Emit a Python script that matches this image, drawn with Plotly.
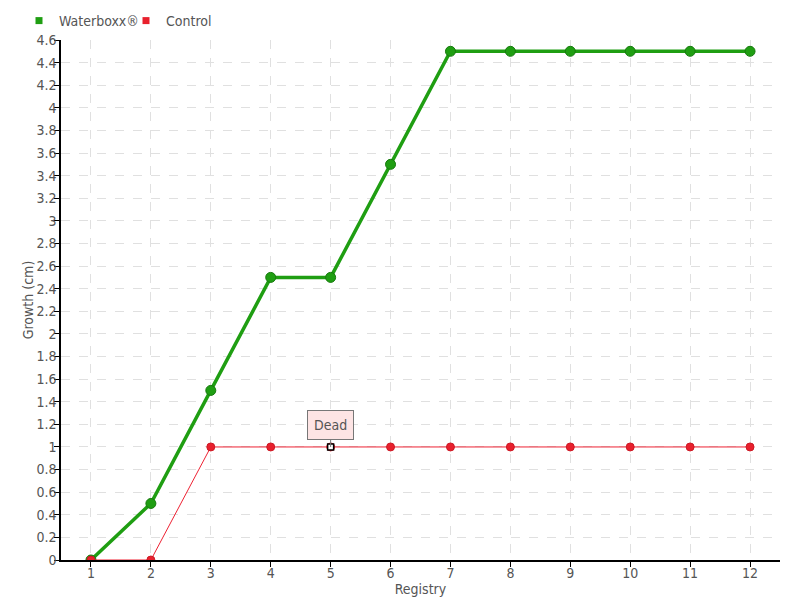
import plotly.graph_objects as go

registry = [1, 2, 3, 4, 5, 6, 7, 8, 9, 10, 11, 12]
waterboxx = [0, 0.5, 1.5, 2.5, 2.5, 3.5, 4.5, 4.5, 4.5, 4.5, 4.5, 4.5]
control = [0, 0, 1, 1, 1, 1, 1, 1, 1, 1, 1, 1]
y_ticks = [0, 0.2, 0.4, 0.6, 0.8, 1, 1.2, 1.4, 1.6, 1.8, 2, 2.2, 2.4, 2.6, 2.8, 3,
           3.2, 3.4, 3.6, 3.8, 4, 4.2, 4.4, 4.6]
dead_x, dead_y, dead_label = 5, 1, "Dead"

font_family = "DejaVu Sans Condensed, Liberation Sans Narrow, sans-serif"
text_color = "#555555"
green = "#1f9e12"
red = "#e8202d"

W, H = 792, 592  # page body has an 8px margin

fig = go.Figure()
fig.add_trace(go.Scatter(
    x=registry, y=waterboxx, name="Waterboxx®", mode="lines+markers", showlegend=False,
    line=dict(color=green, width=3.5),
    marker=dict(symbol="circle", size=10, color=green,
                line=dict(color="#177a0e", width=1)),
))
fig.add_trace(go.Scatter(
    x=registry, y=control, name="Control", mode="lines+markers", showlegend=False,
    line=dict(color="#ee2233", width=1),
    marker=dict(symbol="circle", size=8, color=red,
                line=dict(color="#cc1a25", width=1)),
))
fig.add_trace(go.Scatter(x=[None], y=[None], name="Waterboxx®", mode="markers",
                         legend="legend",
                         marker=dict(symbol="square", size=7, color=green)))
fig.add_trace(go.Scatter(x=[None], y=[None], name="Control", mode="markers",
                         legend="legend2",
                         marker=dict(symbol="square", size=7, color=red)))
fig.add_trace(go.Scatter(
    x=[dead_x], y=[dead_y], mode="markers", showlegend=False,
    marker=dict(symbol="square", size=6, color="white",
                line=dict(color="black", width=1.5)),
))
fig.add_annotation(
    x=dead_x, y=dead_y, text=dead_label, showarrow=True, arrowhead=0,
    arrowwidth=1, arrowcolor="#777777", ax=0, ay=-22,
    bgcolor="#fde4e4", bordercolor="#777777", borderwidth=1, borderpad=6,
    font=dict(family=font_family, size=14, color=text_color),
)

legend_common = dict(orientation="h", xref="container", xanchor="left",
                     y=1 - 13 / H, yref="container", yanchor="middle",
                     font=dict(size=14, color=text_color), itemwidth=30,
                     tracegroupgap=0, bgcolor="rgba(0,0,0,0)")

fig.update_layout(
    width=W, height=H,
    margin=dict(l=53, r=20, t=32, b=40, autoexpand=False),
    plot_bgcolor="white", paper_bgcolor="white",
    font=dict(family=font_family, size=14, color=text_color),
    legend=dict(x=11 / W, **legend_common),
    legend2=dict(x=118 / W, **legend_common),
    showlegend=True,
)
fig.update_xaxes(
    range=[0.5, 12.5], tickmode="array", tickvals=registry,
    showline=True, linecolor="black", linewidth=1.5,
    ticks="outside", ticklen=5, tickcolor="black", ticklabelstandoff=-6,
    showgrid=True, gridcolor="#e0e0e0", griddash="dash",
    zeroline=False, automargin=False,
    title=dict(text="Registry", standoff=0, font=dict(size=14, color=text_color)),
    tickfont=dict(size=14, color=text_color),
)
fig.update_yaxes(
    range=[0, 4.6], tickmode="array", tickvals=y_ticks,
    showline=True, linecolor="black", linewidth=1.5,
    ticks="outside", ticklen=5, tickcolor="black", ticklabelstandoff=-5,
    showgrid=True, gridcolor="#e0e0e0", griddash="dash",
    zeroline=False, automargin=False,
    title=dict(text="Growth (cm)", standoff=0, font=dict(size=14, color=text_color)),
    tickfont=dict(size=14, color=text_color),
)

fig.write_html("out.html")
